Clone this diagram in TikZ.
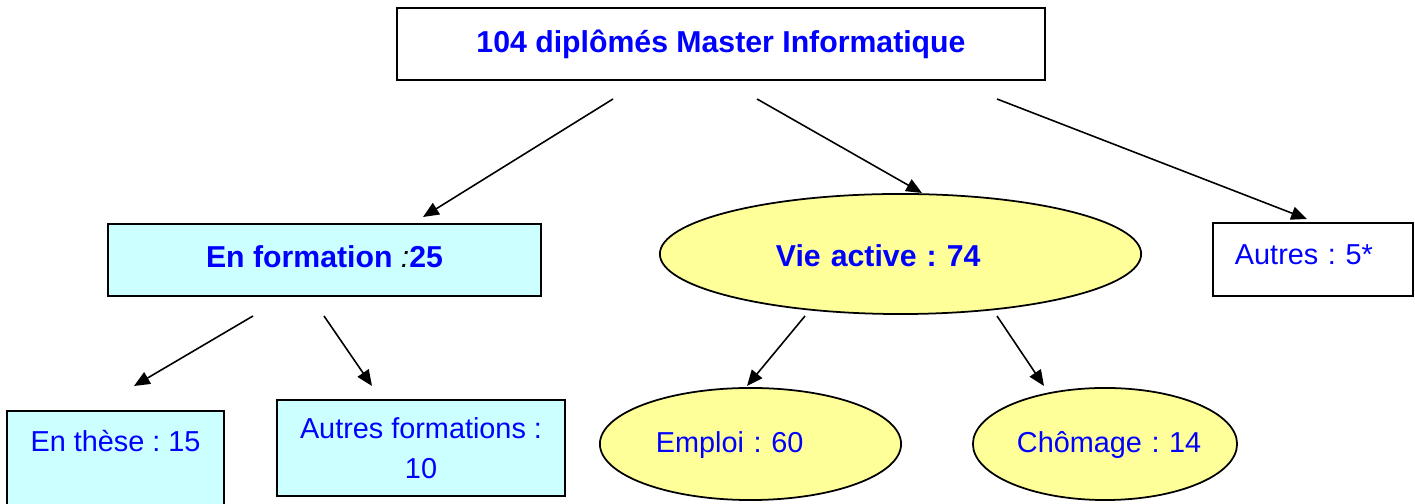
\documentclass[tikz,border=0pt]{standalone}
\usepackage{fontspec}
\setmainfont{Liberation Sans}
\usetikzlibrary{arrows.meta,shapes.geometric}

\definecolor{celeste}{RGB}{204,255,255}
\definecolor{amarillo}{RGB}{255,255,153}
\definecolor{azul}{RGB}{0,0,255}

\tikzset{
  caja/.style={draw, line width=0.6pt, inner sep=0pt, minimum height=0pt, text=azul},
  ovalo/.style={ellipse, draw, line width=0.5pt, inner sep=0pt, fill=amarillo, text=azul},
  flecha/.style={line width=0.45pt, -{Triangle[length=4.5pt,width=3.8pt]}},
  grueso/.style={font=\fontsize{8.6}{10}\selectfont\bfseries},
  fino/.style={font=\fontsize{8.2}{11.3}\selectfont},
}
\frenchspacing

\begin{document}
\begin{tikzpicture}[x=0.01cm, y=-0.01cm]
    % Marco fijo de la figura (unidades en pixeles de la referencia).
    \useasboundingbox (0,0) rectangle (1415,504);

    % Nivel 1: el total de diplomados.
    \node[caja, grueso, minimum width=6.48cm, text height=0.45cm, text depth=0.27cm] (T) at (721,44) {104 diplômés Master Informatique};

    % Nivel 2: formacion, vida activa y otros.
    \node[caja, grueso, fill=celeste, minimum width=4.33cm, text height=0.44cm, text depth=0.28cm] (F) at (324.5,260) {En formation {\color{black}\normalfont\itshape :}25};
    \node[ovalo, grueso, minimum width=4.81cm, minimum height=1.20cm, text width=2.49cm, align=left, text height=0.30cm, text depth=0.04cm] (V) at (900.5,254) {Vie~active~:~74};
    \node[caja, fino, minimum width=2.00cm, text width=1.56cm, align=left, text height=0.42cm, text depth=0.31cm] (R) at (1313,259.5) {Autres~:~5*};

    % Nivel 3: detalle de cada rama.
    \node[caja, fino, fill=celeste, minimum width=2.17cm, text height=0.41cm, text depth=0.58cm] (F1) at (115.5,460.5) {En thèse : 15};
    \node[caja, fino, fill=celeste, minimum width=2.88cm, minimum height=0.96cm, align=center] (F2) at (421,448) {Autres formations :\\10};
    \node[ovalo, fino, minimum width=3.01cm, minimum height=1.12cm, text width=1.89cm, align=left, text height=0.22cm, text depth=0.06cm] (V1) at (750.5,444) {Emploi~:~60};
    \node[ovalo, fino, minimum width=2.64cm, minimum height=1.12cm, text width=1.76cm, align=left, text height=0.22cm, text depth=0.06cm] (V2) at (1105,444) {Chômage~:~14};

    % Puntos de salida y llegada de las flechas.
    \coordinate (A1) at (613,99);  \coordinate (B1) at (423,217);
    \coordinate (A2) at (757,99);  \coordinate (B2) at (922,193);
    \coordinate (A3) at (997,99);  \coordinate (B3) at (1307,219);
    \coordinate (A4) at (253,316); \coordinate (B4) at (134,386);
    \coordinate (A5) at (324,316); \coordinate (B5) at (372,386);
    \coordinate (A6) at (805,316); \coordinate (B6) at (747,386);
    \coordinate (A7) at (997,316); \coordinate (B7) at (1044,386);

    % Flechas del arbol.
    \draw[flecha] (A1) -- (B1);
    \draw[flecha] (A2) -- (B2);
    \draw[flecha] (A3) -- (B3);
    \draw[flecha] (A4) -- (B4);
    \draw[flecha] (A5) -- (B5);
    \draw[flecha] (A6) -- (B6);
    \draw[flecha] (A7) -- (B7);
\end{tikzpicture}
\end{document}
